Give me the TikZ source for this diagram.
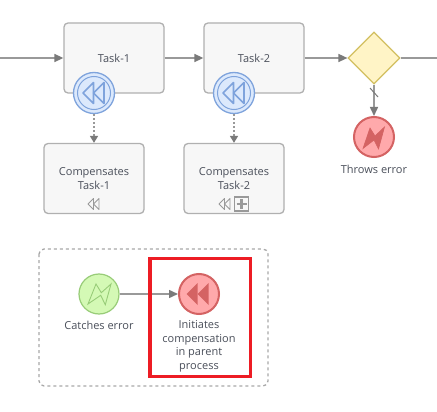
\documentclass[tikz,border=0pt]{standalone}
\usepackage{fontspec}
\setmainfont{Open Sans}
\usetikzlibrary{arrows.meta,shapes.geometric,positioning}
\definecolor{flowgray}{HTML}{999999}
\definecolor{boxline}{HTML}{B0B0B0}
\definecolor{boxfill}{HTML}{F7F7F7}
\definecolor{txt}{HTML}{4A4F5A}
\definecolor{bluefill}{HTML}{DCE9FC}
\definecolor{blueline}{HTML}{7EA3DC}
\definecolor{redfill}{HTML}{FFA9AB}
\definecolor{redline}{HTML}{D46363}
\definecolor{greenfill}{HTML}{D4F9B5}
\definecolor{greenline}{HTML}{98CC78}
\definecolor{gatefill}{HTML}{FFF4C6}
\definecolor{gateline}{HTML}{D2BF60}
\definecolor{highlightred}{HTML}{ED1C24}
\definecolor{tipgray}{HTML}{7A7A7A}
\tikzset{
  x=1pt,y=-1pt,
  taskbox/.style={draw=boxline,line width=1.3pt,fill=boxfill,rounded corners=4pt,minimum width=100pt,minimum height=70pt,inner sep=0pt,text=txt,font=\fontsize{11}{13.5}\selectfont,align=center},
  flow/.style={draw=flowgray,line width=1.5pt,-{Triangle[length=9pt,width=8pt,fill=tipgray,color=tipgray]}},
  plainflow/.style={draw=flowgray,line width=1.5pt},
  comp/.style={draw=flowgray,line width=1.6pt,dash pattern=on 2pt off 2pt,-{Triangle[length=7pt,width=8pt,fill=tipgray,color=tipgray]}},
  bluecirc/.style={circle,draw=blueline,fill=bluefill,line width=1.3pt,minimum size=41pt,inner sep=0pt},
  redcirc/.style={circle,draw=redline,fill=redfill,line width=2pt,minimum size=40pt,inner sep=0pt},
  greencirc/.style={circle,draw=greenline,fill=greenfill,line width=1.2pt,minimum size=40pt,inner sep=0pt},
  lab/.style={text=txt,font=\fontsize{11}{13.5}\selectfont,align=center,inner sep=0pt},
}
\newcommand{\rewind}[4]{% x y size colour (filled)
  \fill[#4] (#1,#2) -- ++(#3,-#3) -- ++(0,2*#3) -- cycle;
  \fill[#4] (#1+#3,#2) -- ++(#3,-#3) -- ++(0,2*#3) -- cycle;}
\newcommand{\rewindopen}[5]{% x y size colour width
  \draw[#4,line width=#5,line join=round] (#1,#2) -- ++(#3,-#3) -- ++(0,2*#3) -- cycle;
  \draw[#4,line width=#5,line join=round] (#1+#3,#2) -- ++(#3,-#3) -- ++(0,2*#3) -- cycle;}
\begin{document}
\begin{tikzpicture}
\useasboundingbox (0,0) rectangle (437,412);
\fill[white] (0,0) rectangle (437,412);
\coordinate (in) at (0,58);
\coordinate (out) at (437,58);
\node[taskbox] (t1) at (114,58) {Task-1};
\node[taskbox] (t2) at (254,58) {Task-2};
\node[diamond,draw=gateline,fill=gatefill,line width=1.2pt,minimum width=52pt,minimum height=52pt,inner sep=0pt] (gw) at (374,58) {};
\node[taskbox] (c1) at (94,178.5) {Compensates\\Task-1};
\node[taskbox] (c2) at (234,178.5) {Compensates\\Task-2};
\node[bluecirc] (b1) at (94,93) {};
\node[bluecirc] (b2) at (234,93) {};
\node[redcirc] (e) at (374,137) {};
\node[lab] (el) at (374,169) {Throws error};
\node[greencirc] (g) at (99,294) {};
\node[redcirc] (r) at (199,294) {};
\node[lab] (gl) at (99,325) {Catches error};
\node[lab] (rl) at (199,346.5) {Initiates\\compensation\\in parent\\process};
% connectors
\draw[flow] (in) -- (t1.west);
\draw[flow] (t1.east) -- (t2.west);
\draw[flow] (t2.east) -- (gw.west);
\draw[plainflow] (gw.east) -- (out);
\draw[flow] (gw.south) -- (e.north);
\draw[tipgray,line width=1pt] (370,88) -- (378,97);
\draw[comp] (b1.south) -- (c1.north);
\draw[comp] (b2.south) -- (c2.north);
\draw[flow] (g.east) -- (r.west);
% blue inner rings + icons
\foreach \cx in {94,234}{
  \draw[blueline,line width=1pt] (\cx,93) circle (16.5pt);
  \rewindopen{\cx-11}{93}{10.5}{blueline}{1.6pt}
}
% marker icons
\rewindopen{88}{204}{5.5}{flowgray}{0.9pt}
\rewindopen{219}{204}{5.5}{flowgray}{0.9pt}
\node[draw=flowgray,line width=1.2pt,minimum size=14pt,inner sep=0pt] (pl) at (241.5,204) {};
\draw[flowgray,line width=2.2pt] (236.5,204) -- (246.5,204) (241.5,199) -- (241.5,209);
% red event icons
\filldraw[redline,line width=0.6pt,line join=miter] (363,148.5) -- (370,128) -- (375,136) -- (384.5,127) -- (378.5,149) -- (374,140) -- cycle;
\rewind{186.5}{294}{11}{redline}
% green icon
\draw[greenline,line width=0.9pt,line join=miter] (88,304) -- (96,284) -- (101.3,292.7) -- (111,284) -- (105.3,304.7) -- (100.7,295.3) -- cycle;
% group + highlight
\draw[flowgray!85,line width=1.3pt,dash pattern=on 3pt off 3pt,rounded corners=5pt] (39,249) rectangle (268,386);
\draw[highlightred,line width=3.4pt] (150,258.5) rectangle (250.5,376.5);
\end{tikzpicture}
\end{document}
